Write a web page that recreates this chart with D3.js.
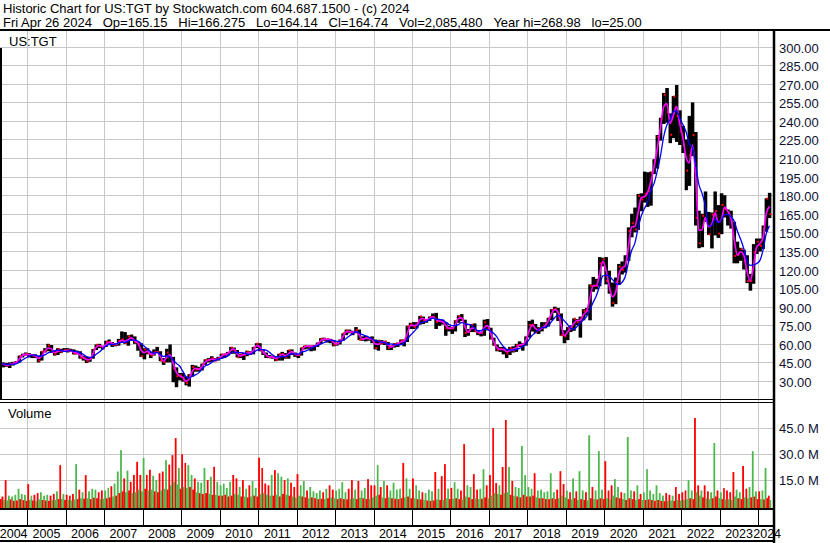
<!DOCTYPE html>
<html lang="en">
<head>
<meta charset="utf-8">
<title>Historic Chart US:TGT</title>
<script type="text/javascript" src="https://cdn.jsdelivr.net/npm/d3@7"></script>
<style type="text/css">
  body { margin:0; background:#fff; }
  svg text { font-family:"Liberation Sans", Arial, sans-serif; font-size:13px; }
</style>
</head>
<body>
<svg id="chart"></svg>
<script type="text/javascript">
// ---- header text ----
var titleLines = [
  "Historic Chart for US:TGT by Stockwatch.com 604.687.1500 - (c) 2024",
  "Fri Apr 26 2024   Op=165.15   Hi=166.275   Lo=164.14   Cl=164.74   Vol=2,085,480   Year hi=268.98   lo=25.00"
];
var symbol = "US:TGT";
var firstMonth = new Date(2004, 3, 1);   // Apr 2004, one entry per month below
var years = d3.range(2004, 2025);
var priceTicks = [30,45,60,75,90,105,120,135,150,165,180,195,210,225,240,255,270,285,300];
var volTicks = [15,30,45];

// monthly closes (Apr 2004 .. Apr 2024)
var closes = [
  44.0,43.5,42.5,43.6,44.6,45.2,50.0,51.2,51.9,
  50.8,50.8,50.0,46.4,53.7,54.4,58.7,53.7,51.9,55.7,53.5,54.9,
  54.7,54.4,52.0,53.1,48.9,48.9,45.9,48.4,55.3,59.2,58.1,57.1,
  61.4,61.5,59.3,59.4,62.4,63.6,60.6,65.9,63.6,61.4,60.1,50.0,
  55.6,52.6,50.7,53.1,53.4,46.5,45.2,53.0,49.1,40.1,33.8,34.5,
  31.2,28.3,34.4,41.3,39.3,39.5,43.6,47.0,46.7,48.4,46.5,48.4,
  51.3,51.5,52.6,56.9,54.5,49.2,51.3,51.2,53.4,51.9,56.9,60.1,
  54.8,52.6,50.0,49.1,49.5,46.9,51.5,51.7,49.0,54.8,52.7,51.2,
  50.8,56.7,58.3,57.9,57.9,58.2,60.7,64.1,63.5,63.7,63.1,59.2,
  60.4,63.0,68.5,70.6,69.5,68.9,71.3,63.3,64.0,64.8,63.9,63.3,
  56.6,62.6,60.5,61.8,56.8,57.9,59.6,60.1,62.7,61.8,74.0,75.9,
  73.6,76.8,82.1,78.8,79.3,81.6,81.8,77.7,78.7,77.2,72.5,72.6,
  72.4,78.5,82.3,79.5,68.8,69.8,75.3,70.2,68.7,68.7,77.3,72.2,
  64.5,59.0,55.2,55.9,55.1,52.3,56.7,54.5,59.0,59.0,59.9,65.3,
  75.2,75.4,69.4,72.6,72.9,76.1,80.7,87.5,88.2,83.6,67.0,66.1,
  73.0,72.7,80.3,77.4,80.4,86.6,86.4,107.0,106.9,106.9,125.0,128.2,
  110.7,103.0,93.0,109.7,122.3,119.9,125.9,151.2,157.4,152.2,179.5,176.5,
  181.2,183.4,198.1,207.3,226.9,241.7,261.0,247.0,228.8,259.6,243.8,231.4,
  220.4,199.8,212.2,228.6,161.8,141.2,163.4,160.3,148.4,164.3,167.1,149.0,
  172.1,168.7,165.6,157.8,131.0,132.0,136.5,126.5,110.6,110.8,133.8,142.4,
  139.1,152.9,177.2,164.7
];
var highs = [
  45.5,45.0,44.5,45.0,45.5,46.0,50.5,52.0,53.0,
  52.5,51.8,51.5,50.5,54.0,56.5,60.0,59.0,54.5,56.5,56.0,56.5,
  56.5,56.0,55.5,54.5,54.0,50.5,49.5,48.8,55.8,59.5,60.0,58.5,
  62.5,63.5,61.5,60.5,64.0,70.0,69.5,67.0,67.5,66.0,62.0,60.5,
  56.5,56.5,53.5,55.5,57.5,54.0,48.5,56.0,59.5,49.5,41.0,36.5,
  36.5,33.5,35.5,43.0,42.5,41.5,44.0,47.5,48.5,50.0,48.5,49.5,
  52.0,52.0,53.5,57.5,57.0,55.0,52.0,52.5,54.5,54.0,57.5,60.5,
  60.5,55.5,53.0,51.0,50.5,49.5,52.0,53.5,52.5,55.0,55.5,53.0,
  52.0,57.0,58.5,58.5,58.5,59.0,61.0,64.5,65.0,64.0,64.0,63.0,
  61.0,63.5,68.5,71.5,71.5,70.5,73.5,71.5,66.0,66.5,65.5,66.0,
  63.5,63.0,63.0,62.5,61.5,58.5,60.5,61.0,63.5,63.5,74.5,77.0,
  77.5,77.5,82.5,82.0,80.0,82.0,84.5,85.0,80.0,79.5,77.5,74.5,
  73.5,79.0,83.0,84.0,79.5,72.0,76.0,76.5,71.0,69.5,79.5,80.0,
  73.0,65.0,59.5,57.5,57.5,55.5,57.5,58.0,60.0,62.0,60.5,66.0,
  78.5,79.5,76.0,73.5,77.5,77.5,81.0,88.0,90.0,89.0,84.5,71.0,
  73.5,75.0,80.5,80.0,82.0,88.0,89.0,108.0,114.0,112.5,130.0,129.5,
  130.0,119.0,109.5,113.5,124.5,126.5,131.5,154.0,165.0,170.0,181.0,181.5,
  199.0,198.5,199.0,209.0,228.5,242.5,262.5,266.5,246.0,260.0,268.9,248.5,
  236.0,225.0,244.0,254.9,231.0,167.5,165.0,183.0,166.5,166.0,183.0,172.0,
  181.5,180.0,168.5,167.5,158.5,142.5,137.5,136.0,131.5,116.5,140.5,145.0,
  145.0,155.5,177.5,181.9
];
var lows = [
  42.5,41.0,41.5,40.5,42.5,43.8,45.0,49.0,50.5,
  49.0,48.5,48.5,45.0,46.5,53.0,54.0,53.0,50.5,51.0,52.5,53.5,
  53.0,53.5,51.5,51.5,48.0,46.5,44.5,45.5,48.0,55.0,56.5,55.5,
  57.5,60.0,57.5,58.0,58.5,61.5,60.0,58.5,62.5,60.0,54.5,49.5,
  47.5,51.5,48.5,50.5,52.5,46.0,43.0,45.0,45.0,29.0,25.0,30.5,
  29.5,26.5,25.5,33.5,37.5,37.5,38.5,43.0,45.0,45.5,46.0,46.5,
  48.0,48.5,50.5,52.0,52.0,49.0,48.5,47.0,50.0,51.0,51.5,56.5,
  54.0,51.0,48.5,48.5,48.0,46.0,46.5,46.5,48.0,48.0,51.0,49.5,
  48.5,50.5,55.5,56.0,54.0,54.5,57.5,60.0,62.5,61.0,60.5,58.0,
  58.5,59.5,62.5,67.0,68.5,67.0,68.5,63.0,62.5,62.0,62.5,60.5,
  55.5,54.5,59.5,59.0,55.0,55.0,57.0,57.5,59.5,58.0,61.5,72.0,
  72.0,72.5,75.5,76.0,77.0,78.5,80.5,72.0,74.5,75.5,66.5,70.0,
  68.0,70.0,77.0,78.5,65.5,66.5,69.5,69.5,67.0,66.0,66.5,71.0,
  63.5,58.5,54.0,53.5,51.5,48.5,51.0,53.0,53.5,57.5,54.5,58.5,
  65.0,70.0,68.5,68.0,70.0,72.5,74.0,79.0,85.0,78.5,66.5,60.5,
  63.0,69.5,70.5,75.0,65.0,79.0,83.0,79.0,102.0,104.0,106.5,122.5,
  108.0,100.5,90.0,92.0,107.5,116.0,117.5,127.0,146.0,150.0,152.0,167.0,
  174.0,170.5,171.5,197.0,201.5,224.0,237.5,238.5,222.0,226.0,223.0,220.5,
  214.0,184.0,187.5,211.5,155.5,137.2,138.0,158.5,148.0,137.0,147.5,145.5,
  148.5,162.0,155.5,153.0,125.0,125.0,127.0,120.0,109.0,102.9,108.5,132.5,
  134.5,136.5,150.5,161.5
];
// daily volume, millions: usual level and peak day of each month
var volLow = [
  4.0,3.5,3.2,3.8,3.0,3.2,4.0,3.4,3.0,
  3.5,3.2,3.0,3.8,3.5,3.2,3.0,3.4,3.6,4.0,4.2,3.5,
  3.5,3.2,3.8,4.0,4.5,4.2,4.5,4.0,4.8,4.5,4.0,4.2,
  4.5,5.0,5.5,6.0,7.5,8.5,8.0,9.0,7.5,8.0,9.5,8.5,
  10.0,9.0,9.5,8.5,8.0,9.0,10.0,9.5,12.0,14.0,12.5,10.0,
  11.0,10.5,11.0,9.5,8.0,7.5,7.0,7.5,7.0,6.5,6.5,6.0,
  6.0,6.5,5.5,6.0,7.0,6.5,5.5,5.5,5.0,5.5,6.0,5.5,
  7.0,7.5,6.5,6.0,6.0,6.5,5.5,7.0,6.5,6.0,5.5,5.0,
  6.0,5.5,5.0,4.5,5.0,4.5,4.0,4.2,4.0,4.5,5.0,4.5,
  4.0,4.5,4.0,3.8,4.2,4.5,4.0,4.8,4.5,4.0,4.2,5.0,
  6.0,6.5,5.0,4.5,5.0,4.5,4.2,4.0,4.5,5.0,5.5,4.5,
  4.5,4.0,3.8,3.5,3.2,3.0,3.2,3.8,3.5,3.6,4.5,4.0,
  4.2,4.5,4.0,3.8,5.5,5.0,4.0,4.5,4.0,4.2,5.0,4.5,
  6.0,7.5,7.0,6.5,7.5,8.0,6.5,6.0,5.5,5.0,6.5,5.5,
  5.5,6.0,5.0,4.5,4.5,4.0,4.0,4.5,4.0,4.5,6.0,5.0,
  4.0,3.8,4.5,3.5,4.0,3.5,3.2,4.5,4.0,3.8,4.5,4.0,
  4.5,4.0,6.0,5.0,4.5,4.0,3.5,4.5,4.0,3.5,4.0,3.5,
  3.5,3.8,3.5,3.0,3.5,3.0,2.8,3.0,3.2,3.0,3.5,3.2,
  3.5,4.0,4.5,4.0,8.0,6.0,5.0,4.5,4.0,4.5,5.5,4.5,
  4.0,3.8,4.0,3.5,5.5,4.5,4.0,5.0,4.5,5.0,5.5,4.0,
  4.0,3.8,4.5,3.5
];
var volHigh = [
  6.5,5.5,15.0,6.0,5.5,6.5,10.0,7.0,6.5,
  12.7,6.0,6.5,7.5,8.0,6.0,6.5,6.0,7.0,8.5,23.7,7.0,
  6.5,6.0,7.0,24.3,9.5,8.0,17.9,8.5,10.0,9.5,8.0,9.0,
  9.0,10.5,11.5,13.0,20.0,32.4,16.0,20.5,14.0,18.0,25.6,18.0,
  27.8,18.0,21.0,17.5,15.0,19.0,20.0,26.6,24.0,29.5,39.4,22.0,
  30.0,25.0,23.7,18.0,16.0,14.0,13.5,22.0,15.0,17.0,22.7,14.0,
  12.0,13.0,10.5,14.0,18.0,16.0,11.0,15.0,10.0,12.0,14.5,10.5,
  28.0,22.0,13.0,12.0,18.0,20.8,19.0,17.0,15.0,16.0,13.5,11.0,
  18.5,12.0,14.5,9.0,11.0,8.5,7.5,9.0,8.0,10.0,12.0,9.5,
  9.0,10.0,13.8,8.0,10.0,15.0,9.5,14.5,9.0,10.5,15.6,12.0,
  12.0,23.7,11.0,14.5,12.0,9.0,13.5,9.5,10.0,25.0,16.0,10.0,
  16.0,12.0,9.0,8.0,7.5,9.5,8.5,19.7,10.0,17.3,24.3,10.0,
  10.5,13.8,10.0,9.0,35.9,12.0,11.0,18.5,9.5,10.0,21.4,12.0,
  17.9,45.2,13.3,12.0,22.6,49.9,22.6,14.5,11.0,10.5,34.8,17.9,
  11.0,10.0,19.0,9.0,9.5,8.0,8.5,19.0,8.0,9.5,20.2,12.7,
  9.0,8.0,16.0,8.5,20.2,9.0,8.0,41.0,11.0,9.0,31.8,9.5,
  26.0,9.0,12.0,15.6,11.0,8.0,7.5,40.0,9.0,8.5,12.0,7.0,
  8.0,21.4,9.0,7.0,12.0,7.5,6.0,7.5,6.5,6.0,11.0,7.0,
  8.0,9.0,15.0,9.0,51.0,12.0,9.0,12.0,8.5,8.0,36.5,9.0,
  8.0,10.4,9.0,8.0,19.7,9.5,8.0,23.2,10.0,11.0,31.8,8.5,
  8.5,9.0,22.0,6.0
];

// ---- layout ----
var w = 830, h = 543;
var plotR = 773;
var priceTop = 31, priceBot = 400, volTop = 402, volBot = 509, tickBot = 526, axisBot = 541;

var svg = d3.select("#chart").attr("width", w).attr("height", h);
svg.append("rect").attr("width", w).attr("height", h).attr("fill", "#fff");

var months = closes.map(function(c, i){ return d3.timeMonth.offset(firstMonth, i); });

var xScale = d3.scaleTime()
  .domain([new Date(2005,0,1), new Date(2024,0,1)])
  .range([27.3, 758.3]);
var yScale = d3.scaleLinear().domain([30, 300]).range([381, 46.5]);
var vScale = d3.scaleLinear().domain([0, 45]).range([506, 428.4]);

var grid = "#c8c8c8";

// header (runs of spaces kept as no-break spaces)
svg.selectAll("text.title")
  .data(titleLines)
  .enter()
  .append("text")
  .attr("class", "title")
  .attr("x", 3)
  .attr("y", function(d, i){ return 13 + i*14; })
  .attr("fill", "#000")
  .text(function(d){ return d.replace(/   /g, " \u00a0\u00a0"); });

// grid: horizontal price lines
svg.append("g").selectAll("line")
  .data(priceTicks)
  .enter()
  .append("line")
  .attr("x1", 0).attr("x2", plotR)
  .attr("y1", function(d){ return Math.round(yScale(d)) + 0.5; })
  .attr("y2", function(d){ return Math.round(yScale(d)) + 0.5; })
  .attr("stroke", grid);

// grid: volume lines
svg.append("g").selectAll("line")
  .data(volTicks)
  .enter()
  .append("line")
  .attr("x1", 0).attr("x2", plotR)
  .attr("y1", function(d){ return Math.round(vScale(d)) + 0.5; })
  .attr("y2", function(d){ return Math.round(vScale(d)) + 0.5; })
  .attr("stroke", grid);

// grid: year lines (both panels)
var yearStarts = years.slice(1);
svg.append("g").selectAll("line")
  .data(yearStarts)
  .enter()
  .append("line")
  .attr("x1", function(d){ return Math.round(xScale(new Date(d,0,1))) + 0.5; })
  .attr("x2", function(d){ return Math.round(xScale(new Date(d,0,1))) + 0.5; })
  .attr("y1", priceTop).attr("y2", volBot)
  .attr("stroke", grid);

// ---- price bars ----
function monthW(i){ return xScale(d3.timeMonth.offset(months[i], 1)) - xScale(months[i]); }

svg.append("g").selectAll("rect")
  .data(closes)
  .enter()
  .append("rect")
  .attr("x", function(d, i){ return xScale(months[i]); })
  .attr("width", function(d, i){ return monthW(i) + 0.3; })
  .attr("y", function(d, i){ return yScale(highs[i]); })
  .attr("height", function(d, i){ return yScale(lows[i]) - yScale(highs[i]); })
  .attr("fill", "#000");

// red close marks
svg.append("g").selectAll("rect")
  .data(closes)
  .enter()
  .append("rect")
  .attr("x", function(d, i){ return xScale(months[i]) + monthW(i)/2; })
  .attr("width", 2)
  .attr("y", function(d){ return yScale(d) - 1; })
  .attr("height", 2)
  .attr("fill", "#ff0000");

// moving averages of the closes
function movingAvg(n){
  return closes.map(function(c, i){
    return d3.mean(closes.slice(Math.max(0, i - n + 1), i + 1));
  });
}
var maFast = movingAvg(2);
var maSlow = movingAvg(5);

var lineGen = d3.line()
  .x(function(d, i){ return xScale(months[i]) + monthW(i)/2; })
  .y(function(d){ return yScale(d); })
  .curve(d3.curveMonotoneX);

svg.append("path").datum(maFast)
  .attr("d", lineGen)
  .attr("fill", "none")
  .attr("stroke", "#ff00ff")
  .attr("stroke-width", 1.7);

svg.append("path").datum(maSlow)
  .attr("d", lineGen)
  .attr("fill", "none")
  .attr("stroke", "#0000ff")
  .attr("stroke-width", 1.3);

// ---- volume bars ----
var upCol = "#4cb84c", downCol = "#ff0000";
function isDown(i){ return i > 0 && closes[i] < closes[i-1]; }

var volG = svg.append("g");
volG.selectAll("rect.vh")
  .data(volHigh)
  .enter()
  .append("rect")
  .attr("class", "vh")
  .attr("x", function(d, i){ return xScale(months[i]); })
  .attr("width", function(d, i){ return monthW(i)/2 + 0.2; })
  .attr("y", function(d){ return vScale(d); })
  .attr("height", function(d){ return volBot - vScale(d); })
  .attr("fill", function(d, i){ return isDown(i) ? downCol : upCol; });

volG.selectAll("rect.vl")
  .data(volLow)
  .enter()
  .append("rect")
  .attr("class", "vl")
  .attr("x", function(d, i){ return xScale(months[i]) + monthW(i)/2; })
  .attr("width", function(d, i){ return monthW(i)/2 + 0.2; })
  .attr("y", function(d){ return vScale(d); })
  .attr("height", function(d){ return volBot - vScale(d); })
  .attr("fill", function(d, i){ return isDown(i) ? upCol : downCol; });

// cover anything past the right edge
svg.append("rect").attr("x", plotR).attr("y", priceTop).attr("width", w - plotR).attr("height", h - priceTop).attr("fill", "#fff");

// ---- frame ----
function hline(y, x1, x2, sw){
  svg.append("line").attr("x1", x1).attr("x2", x2).attr("y1", y).attr("y2", y)
    .attr("stroke", "#000").attr("stroke-width", sw);
}
hline(30, 0, w, 2);
hline(399.5, 0, plotR, 1);
hline(402.5, 0, plotR, 1);
hline(509, 0, plotR, 2);
hline(526, 0, plotR, 2);
hline(541, 0, plotR, 2);
svg.append("rect").attr("x", 0).attr("y", 48).attr("width", 2).attr("height", priceBot - 48).attr("fill", "#000");

// year ticks in the axis strip
svg.append("g").selectAll("line")
  .data(yearStarts)
  .enter()
  .append("line")
  .attr("x1", function(d){ return Math.round(xScale(new Date(d,0,1))) + 0.5; })
  .attr("x2", function(d){ return Math.round(xScale(new Date(d,0,1))) + 0.5; })
  .attr("y1", volBot).attr("y2", tickBot)
  .attr("stroke", "#000");

// year labels centred on each year's visible span
svg.append("g").selectAll("text")
  .data(years)
  .enter()
  .append("text")
  .attr("x", function(d){
    var a = Math.max(0, xScale(new Date(d,0,1)));
    var b = Math.min(plotR, xScale(new Date(d+1,0,1)));
    return (a + b) / 2 + (d === 2024 ? 1.5 : 0);
  })
  .attr("y", 538)
  .attr("text-anchor", "middle")
  .attr("fill", "#000")
  .style("font-size", "12.5px")
  .text(function(d){ return d; });

// right border drawn over the labels, like the original
svg.append("line").attr("x1", plotR + 1).attr("x2", plotR + 1).attr("y1", 30).attr("y2", h)
  .attr("stroke", "#000").attr("stroke-width", 2.5);

// right price labels
svg.append("g").selectAll("text")
  .data(priceTicks)
  .enter()
  .append("text")
  .attr("x", 779)
  .attr("y", function(d){ return yScale(d) + 6; })
  .attr("fill", "#101030")
  .text(function(d){ return d3.format(".2f")(d); });

// right volume labels
svg.append("g").selectAll("text")
  .data(volTicks)
  .enter()
  .append("text")
  .attr("x", 779)
  .attr("y", function(d){ return vScale(d) + 5; })
  .attr("fill", "#101030")
  .text(function(d){ return d3.format(".1f")(d) + " M"; });

// panel captions
svg.append("text").attr("x", 9).attr("y", 46).attr("fill", "#000").text(symbol);
svg.append("text").attr("x", 8).attr("y", 418).attr("fill", "#000").text("Volume");
</script>
</body>
</html>
